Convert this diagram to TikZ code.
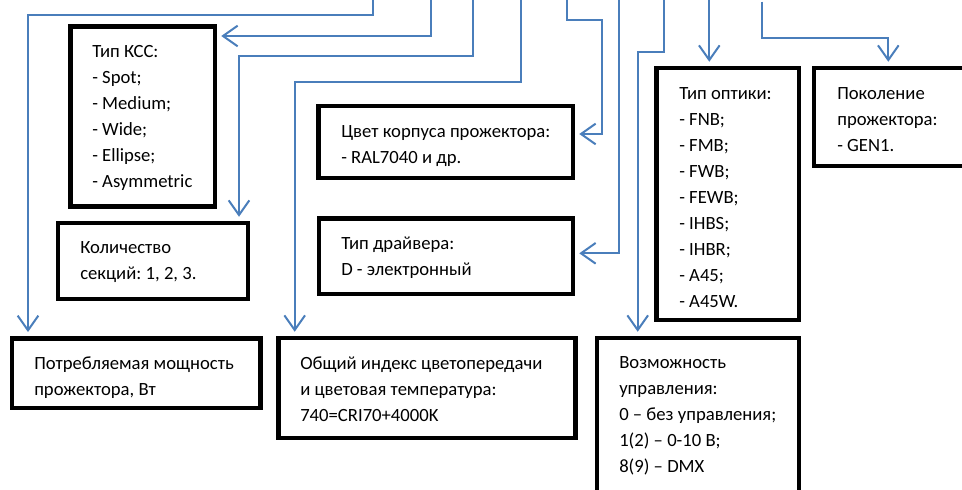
\documentclass[tikz,border=0pt]{standalone}
\usepackage{fontspec}
\setmainfont{Carlito}
\frenchspacing
\usetikzlibrary{arrows.meta,fit}
\definecolor{linkblue}{RGB}{74,126,187}
\tikzset{
  box/.style={draw=black, line width=3.375pt, inner sep=0pt, fill=none},
  txt/.style={anchor=north west, inner sep=0pt, align=left,
    font=\fontsize{14pt}{19.5pt}\selectfont\frenchspacing},
  conn/.style={draw=linkblue, line width=1.5pt,
    -{Straight Barb[length=11pt,width=15.5pt]}, shorten >=3pt},
}
\begin{document}
\begin{tikzpicture}[x=0.75pt,y=-0.75pt]
\path[use as bounding box, clip] (0,0) rectangle (962,489);
% boxes
\coordinate (kssA) at (70.5,26.7);  \coordinate (kssB) at (215,206.7);
\coordinate (kolA) at (58,223);     \coordinate (kolB) at (248,299);
\coordinate (pwA) at (12,338.3);    \coordinate (pwB) at (260.5,408);
\coordinate (criA) at (278.3,338);  \coordinate (criB) at (575.5,438);
\coordinate (colA) at (318.3,106);  \coordinate (colB) at (573,178);
\coordinate (drvA) at (319,218.3);  \coordinate (drvB) at (573,294);
\coordinate (optA) at (656.7,68);   \coordinate (optB) at (799,320);
\coordinate (genA) at (814,68);     \coordinate (genB) at (990,166);
\coordinate (ctlA) at (597,338);    \coordinate (ctlB) at (799,520);
\node[box, fit=(kssA)(kssB)] (kss) {};
\node[box, fit=(kolA)(kolB)] (kol) {};
\node[box, fit=(pwA)(pwB)] (pw) {};
\node[box, fit=(criA)(criB)] (cri) {};
\node[box, fit=(colA)(colB)] (col) {};
\node[box, fit=(drvA)(drvB)] (drv) {};
\node[box, fit=(optA)(optB)] (opt) {};
\node[box, fit=(genA)(genB)] (gen) {};
\node[box, fit=(ctlA)(ctlB)] (ctl) {};
% texts
\node[txt] (kssT) at (92,38.8) {\strut Тип КСС:\\\strut - Spot;\\\strut - Medium;\\\strut - Wide;\\\strut - Ellipse;\\\strut - Asymmetric};
\node[txt] (kolT) at (80,234.8) {\strut Количество\\\strut секций: 1, 2, 3.};
\node[txt] (pwT) at (34,350.8) {\strut Потребляемая мощность\\\strut прожектора, Вт};
\node[txt] (criT) at (300,350.8) {\strut Общий индекс цветопередачи\\\strut и цветовая температура:\\\strut 740=CRI70+4000K};
\node[txt] (colT) at (341,118.8) {\strut Цвет корпуса прожектора:\\\strut - RAL7040 и др.};
\node[txt] (drvT) at (341,230.8) {\strut Тип драйвера:\\\strut D - электронный};
\node[txt] (optT) at (679,80.8) {\strut Тип оптики:\\\strut - FNB;\\\strut - FMB;\\\strut - FWB;\\\strut - FEWB;\\\strut - IHBS;\\\strut - IHBR;\\\strut - A45;\\\strut - A45W.};
\node[txt] (genT) at (837,80.8) {\strut Поколение\\\strut прожектора:\\\strut - GEN1.};
\node[txt] (ctlT) at (619,349.8) {\strut Возможность\\\strut управления:\\\strut 0 – без управления;\\\strut 1(2) – 0-10 В;\\\strut 8(9) – DMX};
% connector points
\coordinate (s1) at (373.3,-3);  \coordinate (b1a) at (373.3,14.7); \coordinate (b1b) at (28,14.7);
\coordinate (s2) at (431,-3);    \coordinate (b2) at (431,36);
\coordinate (s3) at (472.7,-3);  \coordinate (b3a) at (472.7,56);   \coordinate (b3b) at (239,56);
\coordinate (s4) at (520.7,-3);  \coordinate (b4a) at (520.7,82.3); \coordinate (b4b) at (294.7,82.3);
\coordinate (s5) at (566.7,-3);  \coordinate (b5a) at (566.7,20);   \coordinate (b5b) at (602.3,20); \coordinate (b5c) at (602.3,134);
\coordinate (s6) at (619.3,-3);  \coordinate (b6) at (619.3,253.3);
\coordinate (s7) at (664,-3);    \coordinate (b7a) at (664,52.3);   \coordinate (b7b) at (637.7,52.3);
\coordinate (s8) at (709.3,-3);
\coordinate (s9) at (761.7,1.5); \coordinate (b9a) at (761.7,38.3); \coordinate (b9b) at (888.3,38.3);
% connectors
\draw[conn] (s1) -- (b1a) -- (b1b) -- (b1b |- pw.north);
\draw[conn] (s2) -- (b2) -- (b2 -| kss.east);
\draw[conn] (s3) -- (b3a) -- (b3b) -- (b3b |- kol.north);
\draw[conn] (s4) -- (b4a) -- (b4b) -- (b4b |- cri.north);
\draw[conn] (s5) -- (b5a) -- (b5b) -- (b5c) -- (b5c -| col.east);
\draw[conn] (s6) -- (b6) -- (b6 -| drv.east);
\draw[conn] (s7) -- (b7a) -- (b7b) -- (b7b |- ctl.north);
\draw[conn] (s8) -- (s8 |- opt.north);
\draw[conn] (s9) -- (b9a) -- (b9b) -- (b9b |- gen.north);
\end{tikzpicture}
\end{document}
